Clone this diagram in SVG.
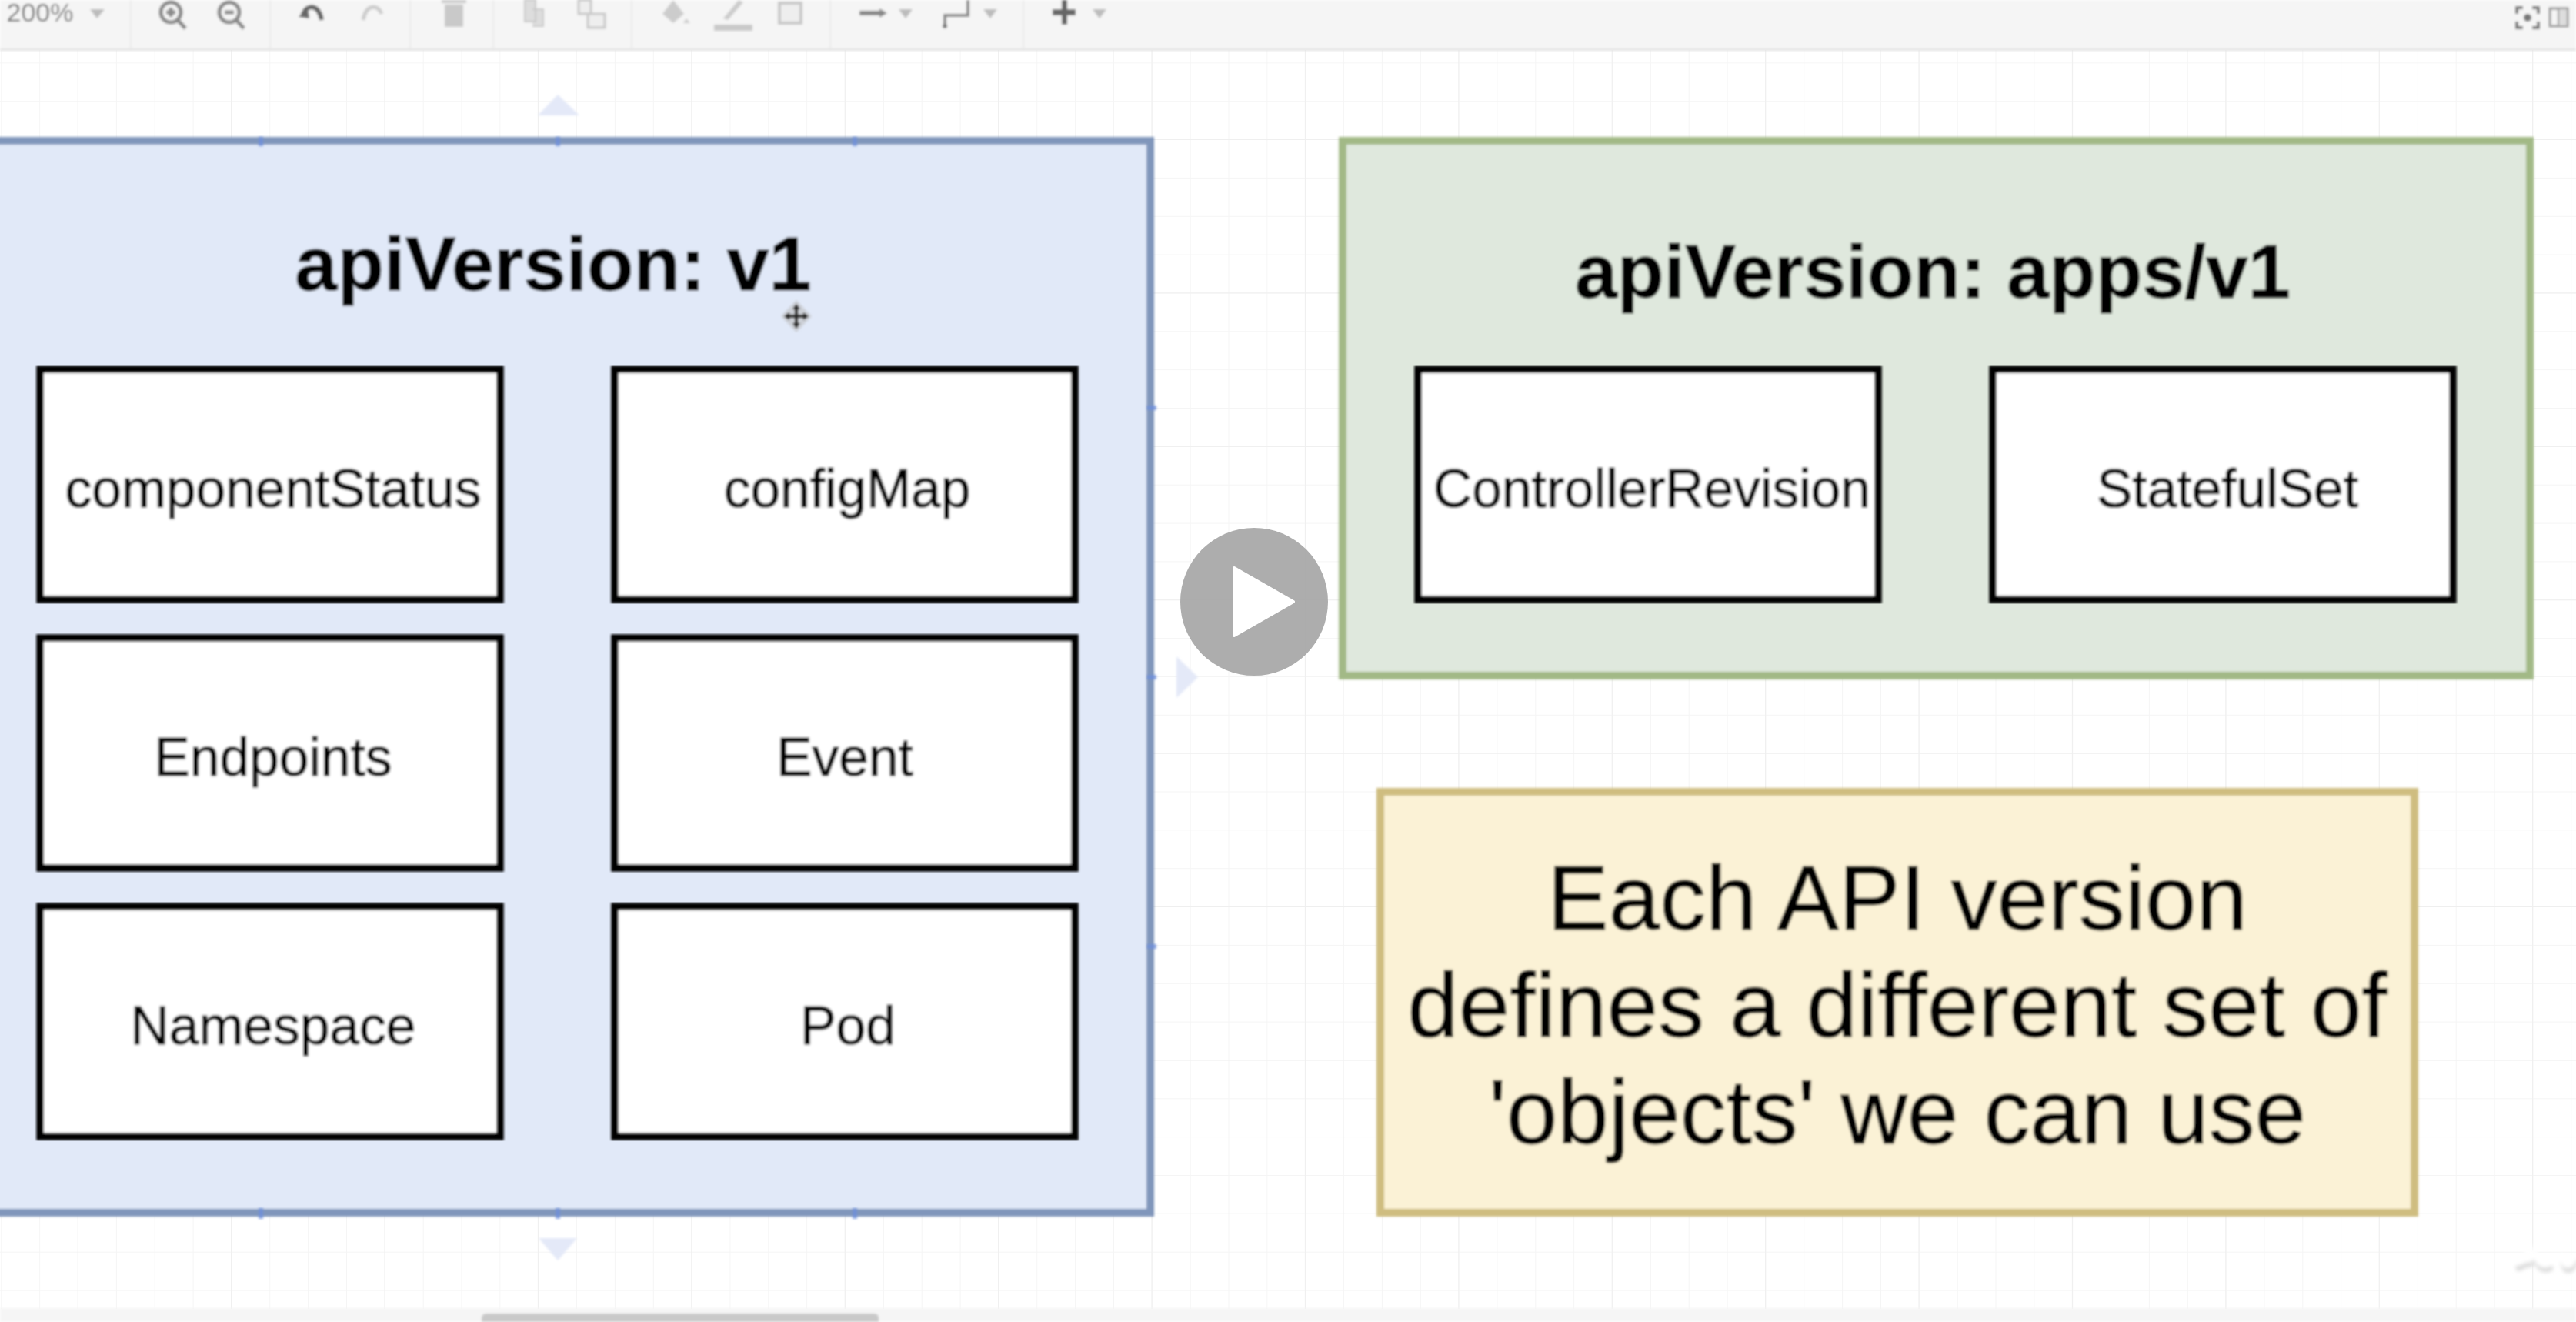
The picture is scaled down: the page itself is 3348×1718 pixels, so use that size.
<svg xmlns="http://www.w3.org/2000/svg" width="3348" height="1718" viewBox="0 0 3348 1718">
<defs>
<pattern id="gm" width="49.85" height="49.85" patternUnits="userSpaceOnUse" x="2.3" y="32.5"><path d="M49.85 0V49.85M0 49.85H49.85" fill="none" stroke="#f5f5f5" stroke-width="2"/></pattern>
<pattern id="gM" width="199.4" height="199.4" patternUnits="userSpaceOnUse" x="-97.7" y="-17.4"><path d="M199.4 0V199.4M0 199.4H199.4" fill="none" stroke="#efefef" stroke-width="2"/></pattern>
<filter id="soft" x="-2%" y="-2%" width="104%" height="104%"><feGaussianBlur stdDeviation="1.4"/></filter>
<filter id="softer" x="-30%" y="-30%" width="160%" height="160%"><feGaussianBlur stdDeviation="2.5"/></filter>
</defs>
<style>
text{font-family:"Liberation Sans",Arial,sans-serif;fill:#000;stroke:#000;text-anchor:middle}
.b{fill:#fff;stroke:#000;stroke-width:9.5}
.l{font-size:69.5px;stroke-width:.9px}
.t{font-size:99px;font-weight:700;stroke-width:.8px}
.y{font-size:119.5px;stroke-width:1px}
.h{fill:#6d8fdc;opacity:.75}
.g{fill:#e4e9f8}
.ic{fill:#c9c9c9}
.sep{stroke:#eaeaea;stroke-width:2}
.ln{fill:none;stroke:#8a8a8a;stroke-width:5}
.tri{fill:#bbb}
</style>
<rect width="3348" height="1718" fill="#fff"/>
<rect y="65" width="3348" height="1636" fill="url(#gm)"/>
<rect y="65" width="3348" height="1636" fill="url(#gM)"/>
<g id="toolbar" filter="url(#soft)">
<rect width="3348" height="64" fill="#f5f5f5"/>
<rect y="63" width="3348" height="3" fill="#e3e3e3"/>
<path class="sep" d="M170 0V63M351 0V63M533 0V63M641 0V63M821 0V63M1079 0V63M1330 0V63"/>
<text x="52" y="28" style="font-size:34px;fill:#777;stroke:none">200%</text>
<path class="tri" d="M117 12H136L126 24Z"/>
<circle class="ln" cx="222" cy="16" r="13"/><path class="ln" d="M231 26L241 37M216 16H228M222 10V22"/>
<circle class="ln" cx="298" cy="16" r="13"/><path class="ln" d="M307 26L317 37M292 16H304"/>
<path d="M394 18C398 6 414 4 418 26" fill="none" stroke="#666" stroke-width="6"/><path d="M388 22L400 8L402 24Z" fill="#666"/>
<path d="M472 26C476 4 492 6 496 18" fill="none" stroke="#ccc" stroke-width="5"/>
<rect class="ic" x="578" y="6" width="24" height="29"/><rect class="ic" x="574" y="0" width="32" height="4"/>
<path d="M682 0H696V28H682ZM692 12H706V34H692" fill="#ddd" stroke="#c8c8c8" stroke-width="2"/>
<path d="M752 0H768V18H752ZM764 18H786V36H764Z" fill="#eee" stroke="#c8c8c8" stroke-width="3"/>
<path d="M875 0L889 18L875 30L861 18Z" fill="#ccc"/><path d="M892 24L897 30H888Z" fill="#ccc"/>
<path d="M960 0L966 3L946 26L940 24Z" fill="#ccc"/><rect class="ic" x="928" y="32" width="50" height="8"/>
<rect x="1013" y="4" width="28" height="26" fill="#eee" stroke="#c8c8c8" stroke-width="4"/>
<path d="M1117 14H1143V20H1117Z" fill="#888"/><path d="M1143 11L1153 17L1143 23Z" fill="#888"/>
<path class="tri" d="M1168 12H1186L1177 24Z"/>
<path d="M1228 33V20H1258V0" fill="none" stroke="#8a8a8a" stroke-width="4"/><circle cx="1228" cy="34" r="3" fill="#777"/>
<path class="tri" d="M1278 12H1296L1287 24Z"/>
<path d="M1380 0H1387V12H1398V20H1387V32H1380V20H1368V12H1380Z" fill="#666"/>
<path class="tri" d="M1420 12H1438L1429 24Z"/>
<g fill="#777"><path d="M3269 8H3279V12H3273V18H3269ZM3291 8H3301V18H3297V12H3291ZM3269 28H3273V34H3279V38H3269ZM3297 28H3301V38H3291V34H3297Z"/><circle cx="3285" cy="23" r="5"/></g>
<rect x="3314" y="11" width="23" height="23" fill="none" stroke="#999" stroke-width="3"/><rect x="3326" y="12" width="10" height="21" fill="#ddd"/><path d="M3325 11V34" stroke="#999" stroke-width="2"/>
</g>
<g id="bottom-bar" filter="url(#soft)">
<rect y="1700" width="3348" height="18" fill="#f5f5f5"/>
<path d="M626 1718V1713Q626 1707 632 1707H1136Q1142 1707 1142 1713V1718Z" fill="#c9c9c9"/>
</g>
<g id="group-v1" filter="url(#soft)">
<rect x="-20" y="183" width="1515" height="1393" fill="#e1e9f8" stroke="#8096bb" stroke-width="10"/>
<text class="t" x="719" y="377">apiVersion: v1</text>
</g>
<g id="group-apps" filter="url(#soft)">
<rect x="1745" y="183" width="1543" height="695" fill="#dfe8dd" stroke="#a2b986" stroke-width="10"/>
<text class="t" x="2512" y="387">apiVersion: apps/v1</text>
</g>
<g id="note" filter="url(#soft)">
<rect x="1794" y="1029" width="1344" height="547" fill="#fbf2d6" stroke="#cfbd80" stroke-width="10"/>
<text class="y" x="2466" y="1208">Each API version</text>
<text class="y" x="2466" y="1347">defines a different set of</text>
<text class="y" x="2466" y="1486">'objects' we can use</text>
</g>
<g id="node-componentStatus" filter="url(#soft)"><rect class="b" x="52" y="480" width="598" height="299"/><text class="l" x="355" y="659">componentStatus</text></g>
<g id="node-configMap" filter="url(#soft)"><rect class="b" x="799" y="480" width="598" height="299"/><text class="l" x="1101" y="659">configMap</text></g>
<g id="node-Endpoints" filter="url(#soft)"><rect class="b" x="52" y="829" width="598" height="299"/><text class="l" x="355" y="1008">Endpoints</text></g>
<g id="node-Event" filter="url(#soft)"><rect class="b" x="799" y="829" width="598" height="299"/><text class="l" x="1098" y="1008">Event</text></g>
<g id="node-Namespace" filter="url(#soft)"><rect class="b" x="52" y="1178" width="598" height="299"/><text class="l" x="355" y="1357">Namespace</text></g>
<g id="node-Pod" filter="url(#soft)"><rect class="b" x="799" y="1178" width="598" height="299"/><text class="l" x="1102" y="1357">Pod</text></g>
<g id="node-ControllerRevision" filter="url(#soft)"><rect class="b" x="1843" y="480" width="598" height="299"/><text class="l" x="2147" y="659">ControllerRevision</text></g>
<g id="node-StatefulSet" filter="url(#soft)"><rect class="b" x="2590" y="480" width="598" height="299"/><text class="l" x="2895" y="659">StatefulSet</text></g>
<g id="selection" filter="url(#soft)">
<path class="g" d="M699 150L725 123L753 150Z"/>
<path class="g" d="M700 1609H750L725 1638Z"/>
<path class="g" d="M1529 853L1557 880L1529 907Z"/>
<g class="h"><rect x="336" y="178" width="6" height="12"/><rect x="722" y="178" width="6" height="12"/><rect x="1108" y="178" width="6" height="12"/><rect x="336" y="1570" width="6" height="14"/><rect x="722" y="1570" width="6" height="14"/><rect x="1108" y="1570" width="6" height="14"/><rect x="1491" y="527" width="12" height="6"/><rect x="1491" y="877" width="12" height="6"/><rect x="1491" y="1227" width="12" height="6"/></g>
</g>
<g id="cursor" filter="url(#soft)"><path d="M1035 390L1055 411L1035 432L1015 411Z" fill="#bbb" opacity=".55"/><path d="M1035 398V424M1022 411H1048" stroke="#222" stroke-width="4"/><path d="M1035 395L1030 402H1040ZM1035 427L1030 420H1040ZM1019 411L1026 406V416ZM1051 411L1044 406V416Z" fill="#222"/></g>
<g id="play"><circle cx="1630" cy="782" r="96" fill="#a6a6a6" fill-opacity=".92"/><path d="M1604 738L1681 782L1604 826Z" fill="#fff" stroke="#fff" stroke-width="4" stroke-linejoin="round"/></g>
<g id="watermark"><g filter="url(#softer)" fill="none" stroke-linecap="round"><path d="M3272 1644C3284 1642 3290 1632 3286 1622C3282 1634 3284 1650 3294 1630C3296 1640 3302 1650 3314 1644M3330 1636C3332 1650 3342 1650 3346 1636" stroke="#dcdcdc" stroke-width="7" transform="translate(1 4)"/><path d="M3272 1641C3284 1640 3290 1630 3286 1620C3282 1632 3284 1648 3294 1628C3296 1638 3302 1648 3314 1642M3330 1634C3332 1648 3342 1648 3346 1634" stroke="#fff" stroke-width="7"/></g></g>
</svg>
